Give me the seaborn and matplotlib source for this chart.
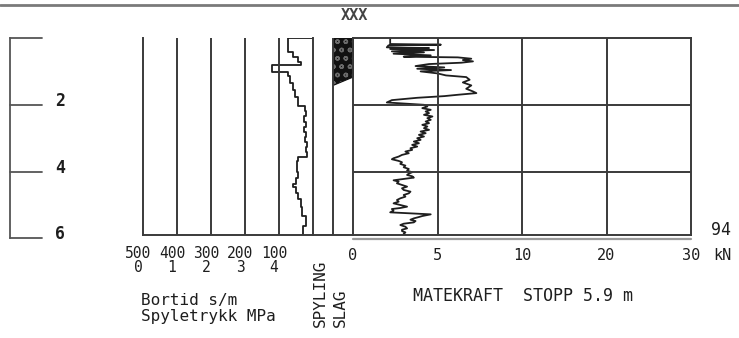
import numpy as np
import matplotlib
matplotlib.use("Agg")
import matplotlib.pyplot as plt
from matplotlib.lines import Line2D
from matplotlib import transforms as mtrans
import seaborn as sns

# ---------------- data ----------------
# Bortid (s/m): each value holds from its top depth down to the next one
bortid_top_depth = [0.00, 0.42, 0.57, 0.71, 0.80, 1.01, 1.15, 1.34, 1.55, 1.76,
                    2.05, 2.20, 2.35, 2.50, 2.65, 2.80, 2.95, 3.10, 3.25, 3.40,
                    3.57, 3.69, 4.00, 4.20, 4.38, 4.46, 4.65, 4.82, 5.05, 5.33,
                    5.63]
bortid_value = [74, 59, 44, 35, 120, 73, 68, 59, 53, 44,
                24, 21, 26, 22, 27, 21, 24, 19, 22, 18,
                44, 47, 44, 50, 59, 50, 44, 35, 32, 21,
                28]

# Matekraft (kN) against depth (m)
force_depth = [0.00, 0.18, 0.20, 0.22, 0.28, 0.30, 0.33, 0.36, 0.40, 0.43,
               0.47, 0.52, 0.56, 0.58, 0.62, 0.66, 0.70, 0.74, 0.78, 0.84,
               0.88, 0.92, 0.96, 1.00, 1.06, 1.12, 1.17, 1.25, 1.33, 1.42,
               1.52, 1.60, 1.65, 1.70, 1.74, 1.79, 1.86, 1.93, 2.00, 2.05,
               2.10, 2.15, 2.20, 2.25, 2.30, 2.35, 2.40, 2.45, 2.50, 2.55,
               2.60, 2.65, 2.70, 2.75, 2.80, 2.85, 2.90, 2.95, 3.00, 3.05,
               3.10, 3.15, 3.20, 3.25, 3.30, 3.35, 3.40, 3.45, 3.50, 3.55,
               3.60, 3.63, 3.68, 3.72, 3.77, 3.82, 3.87, 3.92, 3.97, 4.02,
               4.06, 4.10, 4.14, 4.18, 4.22, 4.26, 4.30, 4.35, 4.40, 4.45,
               4.50, 4.55, 4.60, 4.65, 4.70, 4.75, 4.80, 4.85, 4.90, 4.95,
               5.00, 5.05, 5.09, 5.12, 5.17, 5.22, 5.28, 5.33, 5.36, 5.40,
               5.44, 5.48, 5.52, 5.56, 5.60, 5.65, 5.70, 5.74, 5.78, 5.82,
               5.86, 5.90]
force_kn = [2.2, 2.2, 5.2, 2.1, 2.0, 4.5, 2.2, 4.8, 2.3, 4.2,
            2.4, 4.6, 3.0, 6.2, 7.0, 6.5, 7.1, 6.4, 4.5, 3.7,
            5.4, 3.8, 5.8, 4.0, 5.0, 5.5, 6.7, 6.9, 6.5, 7.0,
            6.7, 7.1, 7.3, 6.2, 5.4, 3.8, 2.3, 2.0, 4.2, 4.4,
            4.1, 4.6, 4.3, 4.5, 4.2, 4.7, 4.4, 4.6, 4.3, 4.5,
            4.1, 4.4, 4.2, 4.5, 4.0, 4.3, 3.9, 4.2, 3.8, 4.0,
            3.6, 3.9, 3.5, 3.8, 3.4, 3.5, 3.1, 3.3, 2.9, 2.7,
            2.4, 2.3, 2.7, 2.9, 2.8, 3.1, 3.0, 3.3, 3.2, 3.5,
            3.3, 3.2, 3.5, 3.6, 3.0, 2.4, 2.7, 2.6, 2.9, 3.2,
            2.9, 3.0, 3.4, 3.3, 3.0, 3.1, 2.8, 2.6, 2.7, 2.4,
            2.8, 3.2, 2.8, 2.3, 2.4, 2.2, 4.6, 4.1, 3.9, 3.6,
            3.4, 3.7, 3.6, 3.0, 2.8, 3.1, 3.2, 2.9, 2.9, 3.1,
            3.0, 3.1]

# Slag (hammering) zone in the SLAG column
slag_depth = [0.00, 1.15, 1.40]
slag_edge = [2.0, 2.0, 1.0]

stop_depth = 5.9
bortid_ticks = [500, 400, 300, 200, 100]
spyletrykk_ticks = [0, 1, 2, 3, 4]
force_ticks = [0, 5, 10, 20, 30]
force_tick_labels = ["0", "5", "10", "20", "30"]
depth_ticks = [0, 2, 4, 6]
depth_labels = ["", "2", "4", "6"]

# ---------------- layout ----------------
W, H, DPI = 739, 338, 100
TOP = 38.0
PX_PER_M = 33.4
BOTTOM = TOP + stop_depth * PX_PER_M
INK = "#1e1e1e"
GRID = "#3a3a3a"

sns.set_theme(style="white")
plt.rcParams["font.family"] = ["DejaVu Sans Mono", "DejaVu Sans"]
plt.rcParams["axes.facecolor"] = "none"

fig = plt.figure(figsize=(W / DPI, H / DPI), dpi=DPI)
fig.patch.set_facecolor("white")


def add_ax(x0, x1, y0, y1):
    return fig.add_axes([x0 / W, 1 - y1 / H, (x1 - x0) / W, (y1 - y0) / H])


def fig_y(py):
    return 1 - py / H


def strip(ax, keep=()):
    for side, sp in ax.spines.items():
        sp.set_visible(side in keep)
        sp.set_color(GRID)
        sp.set_linewidth(1.4)
    ax.set_xticks([])
    ax.set_yticks([])
    ax.set_xlabel("")
    ax.set_ylabel("")


# top rule and title
fig.add_artist(Line2D([0, 1], [fig_y(5)] * 2, color="#7a7a7a", lw=2.0))
fig.text(354 / W, fig_y(16), "XXX", ha="center", va="center",
         fontsize=11, fontweight="bold", color="#444444")

# ---- depth scale ----
ax_d = add_ax(10, 42, TOP, TOP + 6 * PX_PER_M)
ax_d.set_xlim(0, 1)
ax_d.set_ylim(6, 0)
strip(ax_d, keep=("left",))
ax_d.spines["left"].set_color("#555555")
ax_d.spines["left"].set_linewidth(1.3)
for d, lab in zip(depth_ticks, depth_labels):
    ax_d.axhline(d, 0, 1, color="#555555", lw=1.3, clip_on=False)
    if lab:
        ax_d.text(1.56, d, lab, ha="center", va="baseline", fontsize=12,
                  fontweight="bold", color=INK,
                  transform=mtrans.offset_copy(ax_d.transData, fig, x=0, y=-1,
                                               units="dots"))

# ---- bortid / spyletrykk panel ----
ax_b = add_ax(143, 313, TOP, BOTTOM)
steps_v = np.repeat(bortid_value, 2)
bottoms = list(bortid_top_depth[1:]) + [stop_depth]
steps_d = np.ravel(np.column_stack([bortid_top_depth, bottoms]))
steps_v = np.concatenate([[0], steps_v])
steps_d = np.concatenate([[0], steps_d])
sns.lineplot(x=steps_v, y=steps_d, sort=False, estimator=None, orient="y",
             color=INK, lw=1.3, ax=ax_b)
ax_b.set_xlim(500, 0)
ax_b.set_ylim(stop_depth, 0)
strip(ax_b, keep=("left", "right", "bottom"))
for v in bortid_ticks[1:]:
    ax_b.axvline(v, color=GRID, lw=1.4)

tick_tr = mtrans.blended_transform_factory(ax_b.transData, fig.transFigure)
for v in bortid_ticks:
    ax_b.text(v, fig_y(253), str(v), ha="center", va="center", fontsize=10.5,
              color=INK,
              transform=mtrans.offset_copy(tick_tr, fig, x=-5, units="dots"))

ax_p = ax_b.twiny()
ax_p.set_xlim(0, 5)
strip(ax_p)
p_tr = mtrans.blended_transform_factory(ax_p.transData, fig.transFigure)
for v in spyletrykk_ticks:
    ax_p.text(v, fig_y(268), str(v), ha="center", va="center", fontsize=10.5,
              color=INK,
              transform=mtrans.offset_copy(p_tr, fig, x=-5, units="dots"))

fig.text(141 / W, fig_y(300), "Bortid s/m", ha="left", va="center",
         fontsize=11.5, color=INK)
fig.text(141 / W, fig_y(317), "Spyletrykk MPa", ha="left", va="center",
         fontsize=11.5, color=INK)

# ---- spyling / slag columns ----
ax_s = add_ax(313, 353, TOP, BOTTOM)
ax_s.set_xlim(0, 2)
ax_s.set_ylim(stop_depth, 0)
ax_s.fill_betweenx(slag_depth, 1, slag_edge, facecolor="#111111",
                   edgecolor="#111111", lw=0.8)
ax_s.fill_betweenx(slag_depth, 1, slag_edge, facecolor="none",
                   edgecolor="#6a6a6a", hatch="oo", lw=0)
ax_s.axvline(1, color=GRID, lw=1.4)
strip(ax_s, keep=("bottom",))
fig.text(320 / W, fig_y(327), "SPYLING", rotation=90, ha="center",
         va="bottom", fontsize=11.5, color=INK)
fig.text(340 / W, fig_y(327), "SLAG", rotation=90, ha="center",
         va="bottom", fontsize=11.5, color=INK)

# ---- matekraft panel ----
ax_f = add_ax(353, 691, TOP, BOTTOM)
knots = np.array(force_ticks, dtype=float)
units = np.arange(len(force_ticks), dtype=float)
ax_f.set_xscale("function", functions=(lambda v: np.interp(v, knots, units),
                                       lambda u: np.interp(u, units, knots)))
ax_f.set_xlim(0, 30)
ax_f.set_ylim(stop_depth, 0)
sns.lineplot(x=force_kn, y=force_depth, sort=False, estimator=None,
             orient="y", color=INK, lw=1.3, ax=ax_f)
ax_f.set_xlim(0, 30)
ax_f.set_ylim(stop_depth, 0)
strip(ax_f, keep=("left", "right", "top", "bottom"))
for v in force_ticks[1:-1]:
    ax_f.axvline(v, color=GRID, lw=1.4)
for d in (2, 4):
    ax_f.axhline(d, color=GRID, lw=1.4)

f_tr = mtrans.blended_transform_factory(ax_f.transData, fig.transFigure)
for v, lab in zip(force_ticks, force_tick_labels):
    ax_f.text(v, fig_y(255), lab, ha="center", va="center", fontsize=11,
              color=INK, transform=f_tr)
fig.text(722 / W, fig_y(255), "kN", ha="center", va="center", fontsize=11,
         color=INK)
fig.text(721 / W, fig_y(230), "94", ha="center", va="center", fontsize=12,
         color=INK)
fig.add_artist(Line2D([353 / W, 691 / W], [fig_y(239)] * 2, color="#9a9a9a",
                      lw=1.6))
fig.text(413 / W, fig_y(296), f"MATEKRAFT  STOPP {stop_depth} m", ha="left",
         va="center", fontsize=12, color=INK)

fig.savefig("out.png", dpi=DPI, facecolor="white")
